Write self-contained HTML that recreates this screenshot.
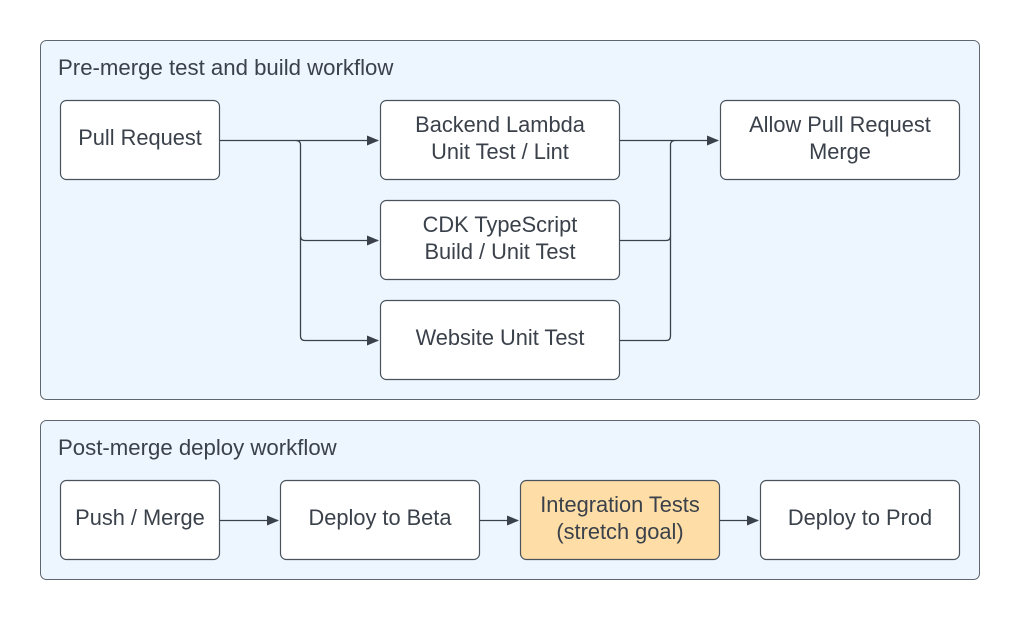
<!DOCTYPE html>
<html><head><meta charset="utf-8"><style>
html,body{margin:0;padding:0;background:#fff;}
svg{display:block;font-family:"Liberation Sans",sans-serif;}
text{fill:#3a414a;font-size:21.8px;}
</style></head><body>
<svg width="1020" height="620" viewBox="0 0 1020 620">
<defs><marker id="a" markerWidth="12" markerHeight="10" refX="11" refY="5" orient="auto" markerUnits="userSpaceOnUse"><path d="M0,0 L12,5 L0,10 Z" fill="#3a414a"/></marker></defs>
<rect x="40.5" y="40.5" width="939" height="359" rx="6" fill="#edf5ff" stroke="#5e6670" stroke-width="1"/>
<rect x="40.5" y="420.5" width="939" height="159" rx="6" fill="#edf5ff" stroke="#5e6670" stroke-width="1"/>
<text x="58" y="75" style="font-size:22.2px">Pre-merge test and build workflow</text>
<text x="58" y="455" style="font-size:22.2px">Post-merge deploy workflow</text>
<g fill="#fff" stroke="#4a525c" stroke-width="1.2">
<rect x="60.5" y="100.5" width="159" height="79" rx="6"/>
<rect x="380.5" y="100.5" width="239" height="79" rx="6"/>
<rect x="380.5" y="200.5" width="239" height="79" rx="6"/>
<rect x="380.5" y="300.5" width="239" height="79" rx="6"/>
<rect x="720.5" y="100.5" width="239" height="79" rx="6"/>
<rect x="60.5" y="480.5" width="159" height="79" rx="6"/>
<rect x="280.5" y="480.5" width="199" height="79" rx="6"/>
<rect x="520.5" y="480.5" width="199" height="79" rx="6" fill="#ffdda6"/>
<rect x="760.5" y="480.5" width="199" height="79" rx="6"/>
</g>
<g fill="none" stroke="#3a414a" stroke-width="1.3">
<path d="M220,140.5 H378" marker-end="url(#a)"/>
<path d="M296,140.5 Q300.5,140.5 300.5,145 V236 Q300.5,240.5 305,240.5 H378" marker-end="url(#a)"/>
<path d="M300.5,236 V336 Q300.5,340.5 305,340.5 H378" marker-end="url(#a)"/>
<path d="M620,140.5 H718" marker-end="url(#a)"/>
<path d="M620,240.5 H666 Q670.5,240.5 670.5,236 V145 Q670.5,140.5 675,140.5"/>
<path d="M620,340.5 H666 Q670.5,340.5 670.5,336 V236"/>
<path d="M220,520.5 H278" marker-end="url(#a)"/>
<path d="M480,520.5 H518" marker-end="url(#a)"/>
<path d="M720,520.5 H758" marker-end="url(#a)"/>
</g>
<g text-anchor="middle">
<text x="140" y="145">Pull Request</text>
<text x="500" y="132">Backend Lambda</text>
<text x="500" y="159">Unit Test / Lint</text>
<text x="500" y="232">CDK TypeScript</text>
<text x="500" y="259">Build / Unit Test</text>
<text x="500" y="345">Website Unit Test</text>
<text x="840" y="132">Allow Pull Request</text>
<text x="840" y="159">Merge</text>
<text x="140" y="525">Push / Merge</text>
<text x="380" y="525">Deploy to Beta</text>
<text x="620" y="512">Integration Tests</text>
<text x="620" y="539">(stretch goal)</text>
<text x="860" y="525">Deploy to Prod</text>
</g>
</svg>
</body></html>
